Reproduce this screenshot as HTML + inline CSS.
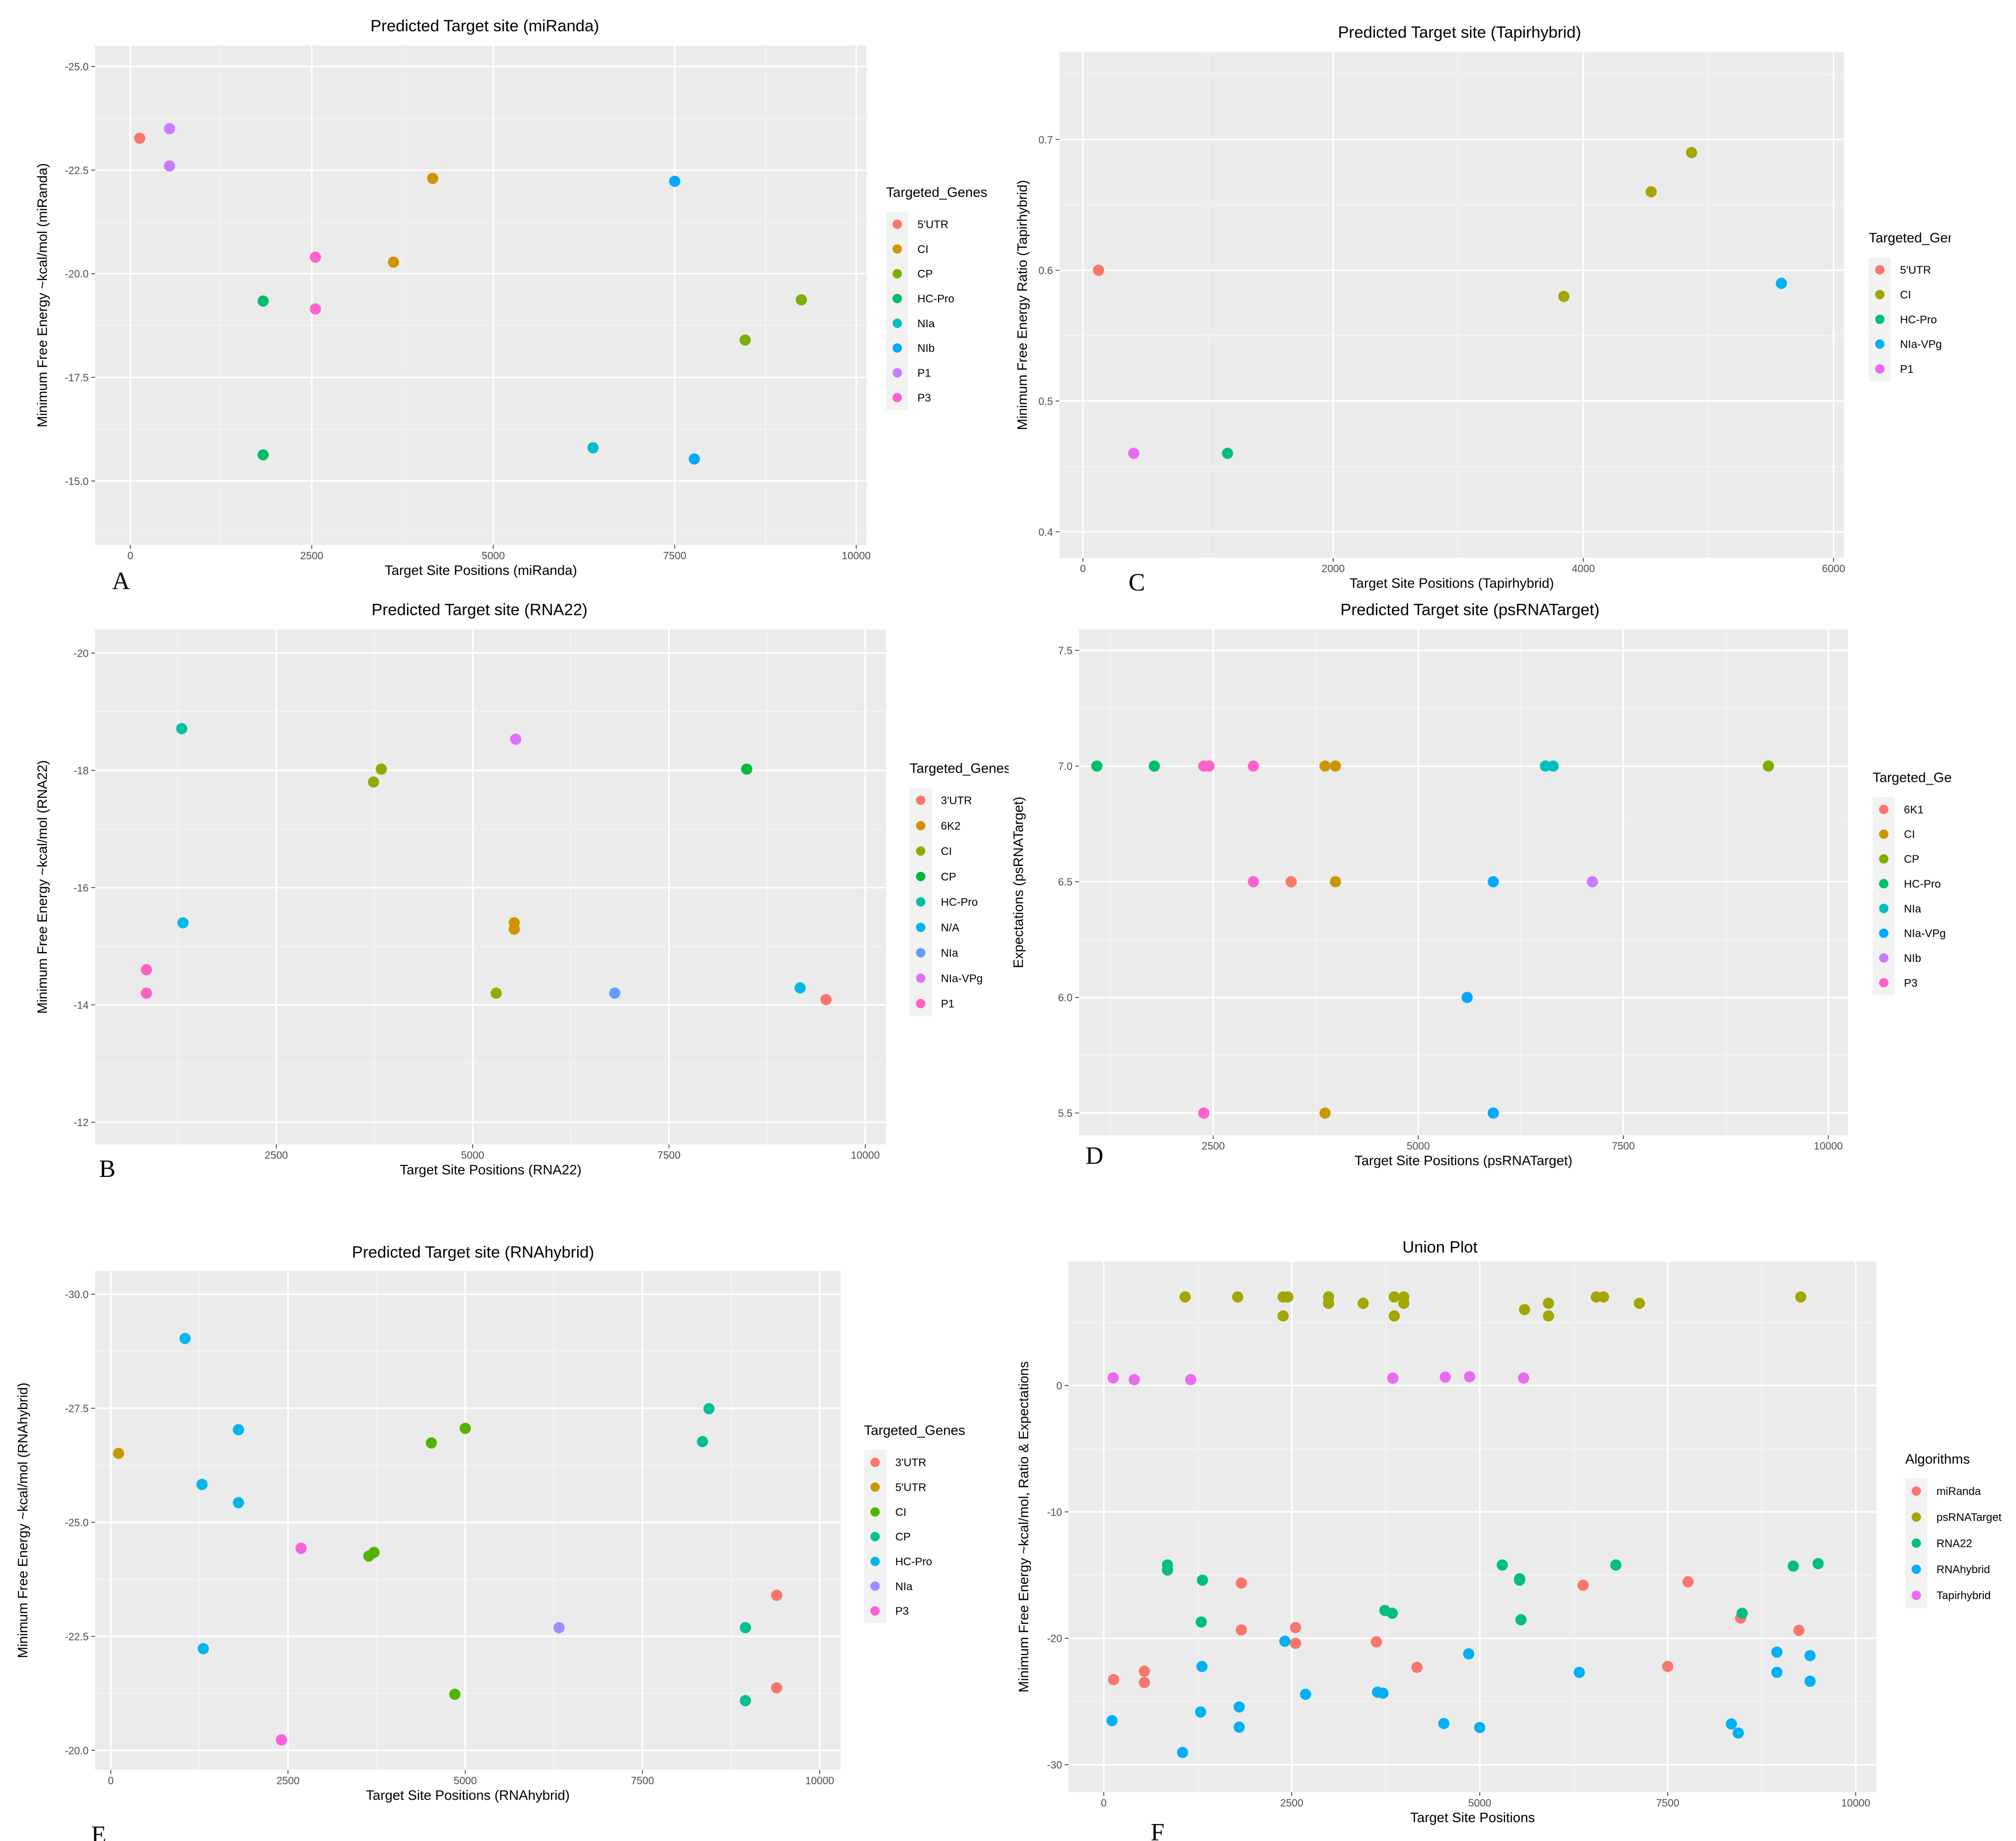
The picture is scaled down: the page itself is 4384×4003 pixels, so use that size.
<!DOCTYPE html>
<html><head><meta charset="utf-8"><style>
html,body{margin:0;padding:0;background:#fff;}
svg{display:block;font-family:"Liberation Sans",sans-serif;}
</style></head><body>
<svg id="chart" width="4384" height="4003" viewBox="0 0 1547 1412.5" xmlns="http://www.w3.org/2000/svg"></svg>
<script>
// ---- Panel A (miRanda) data
const aCats=["5'UTR","CI","CP","HC-Pro","NIa","NIb","P1","P3"];
const aGene=["5'UTR","P1","P1","CI","CI","P3","P3","HC-Pro","HC-Pro","NIb","NIb","NIa","CP","CP"];
const aPos=[130,540,540,4165,3626,2550,2550,1830,1830,7500,7770,6375,8470,9245];
const aVal=[-23.27,-23.5,-22.6,-22.3,-20.28,-20.4,-19.15,-19.34,-15.63,-22.23,-15.53,-15.8,-18.4,-19.37];
const aXTicks=[0,2500,5000,7500,10000];
const aYTicks=[-25,-22.5,-20,-17.5,-15];
// ---- Panel C (Tapirhybrid)
const cCats=["5'UTR","CI","HC-Pro","NIa-VPg","P1"];
const cGene=["5'UTR","P1","HC-Pro","CI","CI","CI","NIa-VPg"];
const cPos=[125,406,1156,3844,4542,4865,5583];
const cVal=[0.6,0.46,0.46,0.58,0.66,0.69,0.59];
const cXTicks=[0,2000,4000,6000];
const cYTicks=[0.4,0.5,0.6,0.7];
// ---- Panel B (RNA22)
const bCats=["3'UTR","6K2","CI","CP","HC-Pro","N/A","NIa","NIa-VPg","P1"];
const bGene=["3'UTR","6K2","6K2","CI","CI","CI","CP","HC-Pro","N/A","N/A","NIa","NIa-VPg","P1","P1"];
const bPos=[9500,5530,5530,3837,3738,5300,8490,1296,1312,9170,6810,5548,847,847];
const bVal=[-14.09,-15.4,-15.29,-18.02,-17.8,-14.2,-18.02,-18.71,-15.4,-14.29,-14.2,-18.53,-14.6,-14.2];
const bXTicks=[2500,5000,7500,10000];
const bYTicks=[-20,-18,-16,-14,-12];
// ---- Panel D (psRNATarget)
const dCats=["6K1","CI","CP","HC-Pro","NIa","NIa-VPg","NIb","P3"];
const dGene=["HC-Pro","HC-Pro","P3","P3","P3","P3","P3","CI","CI","CI","CI","6K1","NIa","NIa","CP","NIa-VPg","NIa-VPg","NIa-VPg","NIb"];
const dPos=[1081,1781,2385,2448,2989,2989,2385,3863,3990,3990,3863,3450,6550,6645,9269,5914,5596,5914,7123];
const dVal=[7,7,7,7,7,6.5,5.5,7,7,6.5,5.5,6.5,7,7,7,6.5,6,5.5,6.5];
const dXTicks=[2500,5000,7500,10000];
const dYTicks=[5.5,6,6.5,7,7.5];
// ---- Panel E (RNAhybrid)
const eCats=["3'UTR","5'UTR","CI","CP","HC-Pro","NIa","P3"];
const eGene=["5'UTR","HC-Pro","HC-Pro","HC-Pro","HC-Pro","HC-Pro","P3","P3","CI","CI","CI","CI","CI","CP","CP","CP","CP","NIa","3'UTR","3'UTR"];
const ePos=[110,1048,1801,1287,1801,1305,2684,2408,4522,5000,3640,3713,4853,8438,8346,8952,8952,6324,9393,9393];
const eVal=[-26.51,-29.03,-27.03,-25.83,-25.43,-22.23,-24.43,-20.23,-26.74,-27.06,-24.26,-24.34,-21.23,-27.49,-26.77,-22.69,-21.09,-22.69,-23.4,-21.37];
const eXTicks=[0,2500,5000,7500,10000];
const eYTicks=[-30,-27.5,-25,-22.5,-20];
// ---- Panel F (union)
const fCats=["miRanda","psRNATarget","RNA22","RNAhybrid","Tapirhybrid"];
const fXTicks=[0,2500,5000,7500,10000];
const fYTicks=[-30,-20,-10,0];

const pal8=["#F8766D","#CD9600","#7CAE00","#00BE67","#00BFC4","#00A9FF","#C77CFF","#FF61CC"];
const pal5=["#F8766D","#A3A500","#00BF7D","#00B0F6","#E76BF3"];
const pal9=["#F8766D","#D39200","#93AA00","#00BA38","#00C19F","#00B9E3","#619CFF","#DB72FB","#FF61C3"];
const pal7=["#F8766D","#C49A00","#53B400","#00C094","#00B6EB","#A58AFF","#FB61D7"];

const svg=document.getElementById('chart');
const NS="http://www.w3.org/2000/svg";
function mk(tag,attrs,parent,text){const e=document.createElementNS(NS,tag);for(const k in attrs)e.setAttribute(k,attrs[k]);if(text!==undefined)e.textContent=text;(parent||svg).appendChild(e);return e;}
function lin(v1,p1,v2,p2){return v=>p1+(v-v1)*(p2-p1)/(v2-v1);}
const defs=mk('defs',{});

function panel(p){
  const g=mk('g',{});
  
  
  const bg=mk('rect',{x:p.x0,y:p.y0,width:p.x1-p.x0,height:p.y1-p.y0,fill:'#EBEBEB'},g);
  
  
  const sx=p.sx, sy=p.sy;
  const xs=p.xt[1]-p.xt[0], ys=p.yt[1]-p.yt[0];
  for(let v=p.xt[0]-xs*3+xs/2;v<p.xt[p.xt.length-1]+xs*3;v+=xs){const px=sx(v);if(px>p.x0&&px<p.x1)mk('line',{x1:px,x2:px,y1:p.y0,y2:p.y1,stroke:'#F5F5F5','stroke-width':0.6},g);}
  for(let v=p.yt[0]-ys*3+ys/2;v<p.yt[p.yt.length-1]+ys*3;v+=ys){const py=sy(v);if(py>p.y0&&py<p.y1)mk('line',{x1:p.x0,x2:p.x1,y1:py,y2:py,stroke:'#F5F5F5','stroke-width':0.6},g);}
  p.xt.forEach(v=>{const px=sx(v);
    mk('line',{x1:px,x2:px,y1:p.y0,y2:p.y1,stroke:'#fff','stroke-width':1.2},g);
    mk('line',{x1:px,x2:px,y1:p.y1,y2:p.y1+3,stroke:'#333','stroke-width':0.6},g);
    const t=mk('text',{x:px,y:p.y1+11,'font-size':8,fill:'#4D4D4D','text-anchor':'middle'},g,String(v));
    
    });
  p.yt.forEach(v=>{const py=sy(v);
    mk('line',{x1:p.x0,x2:p.x1,y1:py,y2:py,stroke:'#fff','stroke-width':1.2},g);
    mk('line',{x1:p.x0-3,x2:p.x0,y1:py,y2:py,stroke:'#333','stroke-width':0.6},g);
    const t=mk('text',{x:p.x0-5,y:py+3,'font-size':8,fill:'#4D4D4D','text-anchor':'end'},g,p.fmt(v));
    
    });
  p.series.forEach(s=>{
    for(let i=0;i<s.pos.length;i++){
      const ci=s.cats.indexOf(s.gene?s.gene[i]:s.cat);
      const c=mk('circle',{cx:sx(s.pos[i]),cy:sy(s.val[i]),r:4.3,fill:p.pal[ci]},g);
      
      
    }
  });
  const ti=mk('text',{x:p.tx,y:p.ty,'font-size':12.5,fill:'#000','text-anchor':'middle'},g,p.title);
  
  
  const xt=mk('text',{x:(p.x0+p.x1)/2,y:p.y1+23,'font-size':10.5,fill:'#000','text-anchor':'middle'},g,p.xtitle);
  
  
  const yt=mk('text',{x:0,y:0,'font-size':10.5,fill:'#000','text-anchor':'middle',transform:`translate(${p.ytx},${(p.y0+p.y1)/2}) rotate(-90)`},g,p.ytitle);
  
  
  const cp=mk('clipPath',{id:'clip-'+p.id},defs);
  mk('rect',{x:p.lx-10,y:p.ly-20,width:p.clipR-(p.lx-10),height:260},cp);
  const lg=mk('g',{'clip-path':'url(#clip-'+p.id+')'},g);
  
  
  const lt=mk('text',{x:p.lx,y:p.ly,'font-size':10.5,fill:'#000'},lg,p.ltitle);
  
  
  p.lcats.forEach((c,i)=>{
    const cy=p.ly+21+i*p.lstep;
    mk('rect',{x:p.lx,y:cy-p.lstep/2,width:17,height:p.lstep,fill:'#F2F2F2'},lg);
    const d=mk('circle',{cx:p.lx+8.5,cy:cy,r:3.6,fill:p.pal[i]},lg);
    
    
    const t=mk('text',{x:p.lx+24,y:cy+3,'font-size':8.5,fill:'#000'},lg,c);
    
    
  });
  const L=mk('text',{x:p.letter[0],y:p.letter[1],'font-size':19,fill:'#000','font-family':'"Liberation Serif",serif'},g,p.letter[2]);
  
  
}
const f1=v=>v.toFixed(1), f0=v=>String(v);

panel({id:'panel-a-miranda',x0:73,x1:665,y0:35,y1:418,sx:lin(0,100,10000,657),sy:lin(-25,51,-15,369),xt:aXTicks,yt:aYTicks,fmt:f1,
  series:[{cats:aCats,gene:aGene,pos:aPos,val:aVal}],pal:pal8,title:'Predicted Target site (miRanda)',tx:372,ty:24,
  xtitle:'Target Site Positions (miRanda)',ytx:36,ytitle:'Minimum Free Energy ~kcal/mol (miRanda)',lx:680,ly:151,lstep:19,lcats:aCats,ltitle:'Targeted_Genes',clipR:780,letter:[86,452,'A']});
panel({id:'panel-c-tapirhybrid',x0:813,x1:1415,y0:40,y1:428,sx:lin(0,831,6000,1407),sy:lin(0.7,107,0.4,408),xt:cXTicks,yt:cYTicks,fmt:f1,
  series:[{cats:cCats,gene:cGene,pos:cPos,val:cVal}],pal:pal5,title:'Predicted Target site (Tapirhybrid)',tx:1120,ty:29,
  xtitle:'Target Site Positions (Tapirhybrid)',ytx:788,ytitle:'Minimum Free Energy Ratio (Tapirhybrid)',lx:1434,ly:186,lstep:19,lcats:cCats,ltitle:'Targeted_Genes',clipR:1497,letter:[866,453,'C']});
panel({id:'panel-b-rna22',x0:73,x1:680,y0:483,y1:878,sx:lin(2500,212,10000,664),sy:lin(-20,501,-12,861),xt:bXTicks,yt:bYTicks,fmt:f0,
  series:[{cats:bCats,gene:bGene,pos:bPos,val:bVal}],pal:pal9,title:'Predicted Target site (RNA22)',tx:368,ty:472,
  xtitle:'Target Site Positions (RNA22)',ytx:36,ytitle:'Minimum Free Energy ~kcal/mol (RNA22)',lx:698,ly:593,lstep:19.5,lcats:bCats,ltitle:'Targeted_Genes',clipR:774,letter:[76,903,'B']});
panel({id:'panel-d-psrnatarget',x0:828,x1:1418,y0:483,y1:871,sx:lin(2500,931,10000,1403),sy:lin(7.5,499,5.5,854),xt:dXTicks,yt:dYTicks,fmt:f1,
  series:[{cats:dCats,gene:dGene,pos:dPos,val:dVal}],pal:pal8,title:'Predicted Target site (psRNATarget)',tx:1128,ty:472,
  xtitle:'Target Site Positions (psRNATarget)',ytx:785,ytitle:'Expectations (psRNATarget)',lx:1437,ly:600,lstep:19,lcats:dCats,ltitle:'Targeted_Genes',clipR:1498,letter:[833,893,'D']});
panel({id:'panel-e-rnahybrid',x0:73,x1:645,y0:975,y1:1358,sx:lin(0,85,10000,629),sy:lin(-30,993,-20,1343),xt:eXTicks,yt:eYTicks,fmt:f1,
  series:[{cats:eCats,gene:eGene,pos:ePos,val:eVal}],pal:pal7,title:'Predicted Target site (RNAhybrid)',tx:363,ty:965,
  xtitle:'Target Site Positions (RNAhybrid)',ytx:21,ytitle:'Minimum Free Energy ~kcal/mol (RNAhybrid)',lx:663,ly:1101,lstep:19,lcats:eCats,ltitle:'Targeted_Genes',clipR:780,letter:[70,1414,'E']});
panel({id:'panel-f-union',x0:820,x1:1440,y0:968,y1:1375,sx:lin(0,847,10000,1424),sy:lin(0,1063,-30,1354),xt:fXTicks,yt:fYTicks,fmt:f0,
  series:[{cats:fCats,cat:'miRanda',pos:aPos,val:aVal},{cats:fCats,cat:'psRNATarget',pos:dPos,val:dVal},{cats:fCats,cat:'RNA22',pos:bPos,val:bVal},
          {cats:fCats,cat:'RNAhybrid',pos:ePos,val:eVal},{cats:fCats,cat:'Tapirhybrid',pos:cPos,val:cVal}],
  pal:pal5,title:'Union Plot',tx:1105,ty:961,xtitle:'Target Site Positions',ytx:789,ytitle:'Minimum Free Energy ~kcal/mol, Ratio & Expectations',
  lx:1462,ly:1123,lstep:20,lcats:fCats,ltitle:'Algorithms',clipR:1547,letter:[883,1412,'F']});
</script>
</body></html>
